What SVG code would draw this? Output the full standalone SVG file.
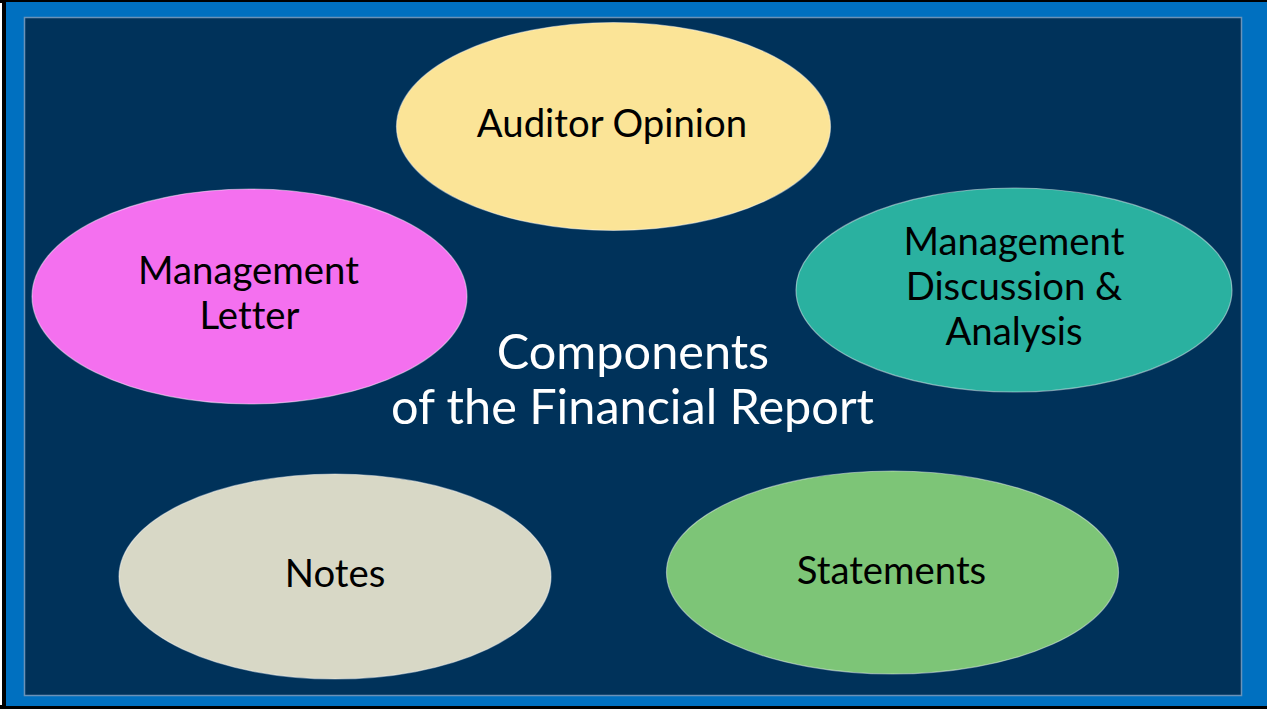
<svg xmlns="http://www.w3.org/2000/svg" width="1267" height="709" viewBox="0 0 1267 709">
  <style>
    .node ellipse { stroke: #ffffff; stroke-opacity: 0.45; stroke-width: 1.2; }
    .lbl { font-family: "Lato", "Liberation Sans", sans-serif; font-size: 38.3px; fill: #000000; text-anchor: middle; font-variant-ligatures: none; }
    .title { font-family: "Lato", "Liberation Sans", sans-serif; font-size: 48.6px; fill: #ffffff; text-anchor: middle; font-variant-ligatures: none; }
  </style>

  <!-- frame -->
  <rect x="0" y="0" width="1267" height="709" fill="#000000"/>
  <rect x="0" y="3" width="2" height="702" fill="#ffffff"/>
  <rect x="6" y="2" width="1261" height="704" fill="#0070C0"/>
  <rect x="24.5" y="17.5" width="1217" height="678" fill="#00325A" stroke="#6A92B8" stroke-width="1.5"/>

  <g id="auditor-opinion" class="node">
    <ellipse cx="613.5" cy="126.5" rx="217" ry="104" fill="#FBE497"/>
    <text class="lbl" x="612" y="137">Auditor Opinion</text>
  </g>

  <g id="management-letter" class="node">
    <ellipse cx="249.5" cy="296.5" rx="217.5" ry="107.5" fill="#F470EF"/>
    <text class="lbl" x="248.5" y="284">Management</text>
    <text class="lbl" x="249.5" y="329">Letter</text>
  </g>

  <g id="md-and-a" class="node">
    <ellipse cx="1014" cy="290" rx="218" ry="102" fill="#2AB1A0"/>
    <text class="lbl" x="1014" y="255">Management</text>
    <text class="lbl" x="1014" y="300">Discussion &amp;</text>
    <text class="lbl" x="1014" y="345">Analysis</text>
  </g>

  <g id="notes" class="node">
    <ellipse cx="335" cy="576.5" rx="216" ry="102.5" fill="#D8D8C6"/>
    <text class="lbl" x="335" y="587">Notes</text>
  </g>

  <g id="statements" class="node">
    <ellipse cx="892.5" cy="572.5" rx="226" ry="101.5" fill="#7DC577"/>
    <text class="lbl" x="891.5" y="584">Statements</text>
  </g>

  <g id="title">
    <text class="title" x="633" y="369">Components</text>
    <text class="title" x="632.5" y="424">of the Financial Report</text>
  </g>

  <g id="connectors"/>
</svg>
